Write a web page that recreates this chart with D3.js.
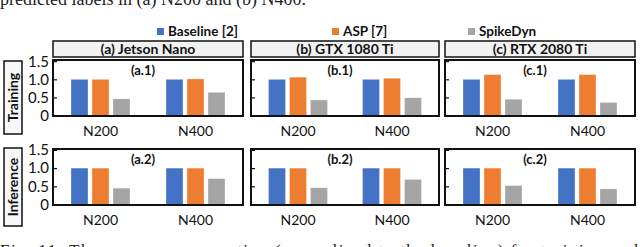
<!DOCTYPE html>
<html>
<head>
<meta charset="utf-8">
<script src="https://cdn.jsdelivr.net/npm/d3@7"></script>
<style>
  body { margin: 0; background: #fff; }
  svg { display: block; }
</style>
</head>
<body>
<script>
// chart data
const panels = ["(a) Jetson Nano", "(b) GTX 1080 Ti", "(c) RTX 2080 Ti"];
const rows = ["Training", "Inference"];
const categories = ["N200", "N400"];
const series = ["Baseline [2]", "ASP [7]", "SpikeDyn"];
const colors = ["#4472C4", "#ED7D31", "#A5A5A5"];
const subLabels = [["(a.1)", "(b.1)", "(c.1)"], ["(a.2)", "(b.2)", "(c.2)"]];
const yTicks = [0, 0.5, 1.0, 1.5];
const yTickLabels = ["0", "0.5", "1.0", "1.5"];

// values per panel: [N200, N400]
const trainBaseline = [[1.0, 1.0], [1.0, 1.0], [1.0, 1.0]];
const trainASP = [[1.0, 1.01], [1.06, 1.03], [1.13, 1.13]];
const trainSpikeDyn = [[0.46, 0.64], [0.43, 0.49], [0.45, 0.36]];
const infBaseline = [[1.0, 1.0], [1.0, 1.0], [1.0, 1.0]];
const infASP = [[1.0, 1.0], [1.0, 1.0], [1.0, 1.0]];
const infSpikeDyn = [[0.45, 0.71], [0.46, 0.69], [0.52, 0.43]];

const rowData = [
  [trainBaseline, trainASP, trainSpikeDyn],
  [infBaseline, infASP, infSpikeDyn]
];

const W = 640, H = 247;
const font = "Lato, 'Open Sans', sans-serif";

const svg = d3.select("body").append("svg")
  .attr("width", W)
  .attr("height", H)
  .style("font-family", font);

// clipped caption text above and below (part of the page)
svg.append("text")
  .attr("x", 0).attr("y", 5)
  .attr("font-family", "'Liberation Serif', 'DejaVu Serif', serif")
  .attr("font-size", 18)
  .attr("fill", "#222")
  .text("predicted labels in (a) N200 and (b) N400.");

svg.append("text")
  .attr("x", 0).attr("y", 256)
  .attr("font-family", "'Liberation Serif', 'DejaVu Serif', serif")
  .attr("font-size", 17)
  .attr("fill", "#222")
  .attr("textLength", 638)
  .attr("lengthAdjust", "spacing")
  .text("Fig. 11: The energy consumption (normalized to the baseline) for training and");

// legend
const legendX = [157, 332, 468];
series.forEach(function (s, i) {
  svg.append("rect")
    .attr("x", legendX[i]).attr("y", 28)
    .attr("width", 7).attr("height", 7)
    .attr("fill", colors[i]);
  svg.append("text")
    .attr("x", legendX[i] + 11).attr("y", 36)
    .attr("font-size", 13.5)
    .attr("font-weight", "bold")
    .attr("fill", "#111")
    .text(s);
});

// layout of panels
const panelX = [[53, 243], [251, 439], [445, 635]];
const rowY = [[115.5, 61.2], [204.5, 149.9]];   // y range for [0, 1.5]
const frameY = [[60, 116], [149, 205]];
const rowBox = [[4, 61, 18, 73], [4, 148, 18, 78]];

// header boxes
panels.forEach(function (p, j) {
  const x0 = panelX[j][0], x1 = panelX[j][1];
  svg.append("rect")
    .attr("x", x0).attr("y", 41)
    .attr("width", x1 - x0).attr("height", 16)
    .attr("fill", "#f2f2f2")
    .attr("stroke", "#111")
    .attr("stroke-width", 1.5);
  svg.append("text")
    .attr("x", (x0 + x1) / 2).attr("y", 54)
    .attr("text-anchor", "middle")
    .attr("font-size", 14)
    .attr("font-weight", "bold")
    .attr("fill", "#111")
    .text(p);
});

// row labels (rotated)
rows.forEach(function (r, k) {
  const b = rowBox[k];
  svg.append("rect")
    .attr("x", b[0]).attr("y", b[1])
    .attr("width", b[2]).attr("height", b[3])
    .attr("fill", "#f7f7f7")
    .attr("stroke", "#111")
    .attr("stroke-width", 1.5);
  svg.append("text")
    .attr("transform", "translate(" + (b[0] + b[2] / 2 + 5) + "," + (b[1] + b[3] / 2) + ") rotate(-90)")
    .attr("text-anchor", "middle")
    .attr("font-size", 14)
    .attr("font-weight", "bold")
    .attr("fill", "#111")
    .text(r);
});

// panels
rows.forEach(function (r, k) {
  const y = d3.scaleLinear().domain([0, 1.5]).range(rowY[k]);
  panels.forEach(function (p, j) {
    const x0 = panelX[j][0], x1 = panelX[j][1];
    const xCat = d3.scaleBand().domain(categories).range([x0, x1]);
    const xSer = d3.scaleBand().domain(series).range([-31.5, 31.5])
      .paddingInner(0.19).paddingOuter(0.095);

    const g = svg.append("g");

    // bars
    series.forEach(function (s, si) {
      const vals = rowData[k][si][j];
      g.selectAll(null)
        .data(categories.map(function (c, ci) { return { c: c, v: vals[ci] }; }))
        .enter()
        .append("rect")
        .attr("x", function (d) { return xCat(d.c) + xCat.bandwidth() / 2 + xSer(s); })
        .attr("width", xSer.bandwidth())
        .attr("y", function (d) { return y(d.v); })
        .attr("height", function (d) { return y(0) - y(d.v); })
        .attr("fill", colors[si])
        .attr("stroke", "#fff")
        .attr("stroke-opacity", 0.5)
        .attr("stroke-width", 0.6);
    });

    // y axis ticks (labels only on the first column)
    const axis = d3.axisLeft(y)
      .tickValues(yTicks)
      .tickSize(-4)
      .tickPadding(4)
      .tickFormat(function (d, i) { return j === 0 ? yTickLabels[i] : ""; });
    const ax = g.append("g")
      .attr("transform", "translate(" + x0 + ",0)")
      .call(axis);
    ax.select(".domain").remove();
    ax.selectAll("line").attr("stroke", "#111").attr("stroke-width", 1.2);
    ax.selectAll("text")
      .attr("font-size", 15)
      .attr("font-family", font)
      .attr("fill", "#111");

    // frame
    g.append("rect")
      .attr("x", x0).attr("y", frameY[k][0])
      .attr("width", x1 - x0).attr("height", frameY[k][1] - frameY[k][0])
      .attr("fill", "none")
      .attr("stroke", "#111")
      .attr("stroke-width", 2);

    // sub label
    g.append("text")
      .attr("x", (x0 + x1) / 2 - 5).attr("y", frameY[k][0] + 15)
      .attr("text-anchor", "middle")
      .attr("font-size", 13)
      .attr("font-weight", "bold")
      .attr("fill", "#111")
      .text(subLabels[k][j]);

    // category labels
    g.selectAll(null)
      .data(categories)
      .enter()
      .append("text")
      .attr("x", function (c) { return xCat(c) + xCat.bandwidth() / 2; })
      .attr("y", y(0) + 20)
      .attr("text-anchor", "middle")
      .attr("font-size", 14)
      .attr("fill", "#111")
      .text(function (c) { return c; });
  });
});
</script>
</body>
</html>
